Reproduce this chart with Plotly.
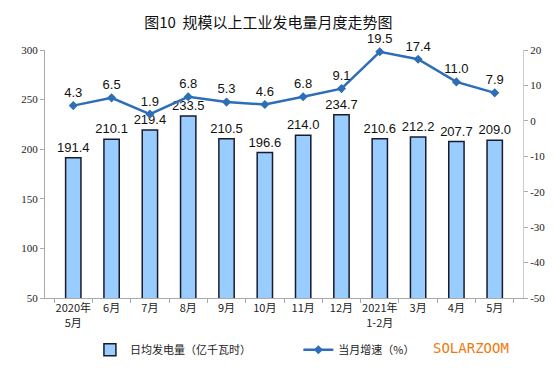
import plotly.graph_objects as go

categories = ["2020年<br>5月", "6月", "7月", "8月", "9月", "10月", "11月", "12月",
              "2021年<br>1-2月", "3月", "4月", "5月"]
daily_output = [191.4, 210.1, 219.4, 233.5, 210.5, 196.6, 214.0, 234.7, 210.6, 212.2, 207.7, 209.0]
growth_rate = [4.3, 6.5, 1.9, 6.8, 5.3, 4.6, 6.8, 9.1, 19.5, 17.4, 11.0, 7.9]
right_ticks = [20, 10, 0, -10, -20, -30, -40, -50]
right_tick_text = ["20", "10", "0", "-10", "-20", "-30", "-40", "-50"]

bar_name = "日均发电量（亿千瓦时）"
line_name = "当月增速（%）"

fig = go.Figure()
fig.add_trace(go.Bar(
    x=categories, y=daily_output, name=bar_name,
    marker=dict(color="#99CCFF", line=dict(color="#1a1a2e", width=1.5)),
    width=0.4,
    text=[f"{v:.1f}" for v in daily_output], textposition="outside",
    constraintext="none", textangle=0,
    textfont=dict(family="Liberation Sans, Arial", size=13, color="#111111"),
    cliponaxis=False, legend="legend", showlegend=True,
))
fig.add_trace(go.Scatter(
    x=categories, y=growth_rate, name=line_name, yaxis="y2",
    mode="lines+markers+text",
    line=dict(color="#2E6DB8", width=2.5),
    marker=dict(symbol="diamond", size=7, color="#2E6DB8"),
    text=[f"{v:.1f}" for v in growth_rate], textposition="top center",
    textfont=dict(family="Liberation Sans, Arial", size=13, color="#111111"),
    cliponaxis=False, legend="legend2", showlegend=True,
))

axis_font = dict(family="Liberation Serif, Times New Roman", size=11, color="#222222")
fig.update_layout(
    width=554, height=381,
    margin=dict(l=37, r=39, t=42, b=91),
    paper_bgcolor="white", plot_bgcolor="white",
    showlegend=True,
    title=dict(text="图10  规模以上工业发电量月度走势图", x=0.47, xanchor="center", y=0.962, yanchor="middle",
               font=dict(family="Noto Sans CJK SC", size=15, color="#111111")),
    xaxis=dict(showline=True, linecolor="#aaaaaa", linewidth=1, ticks="outside", tickson="boundaries",
               ticklen=4, tickcolor="#aaaaaa", tickangle=0,
               tickfont=dict(family="Noto Sans CJK SC", size=11, color="#222222")),
    yaxis=dict(range=[50, 300], dtick=50, showgrid=False, zeroline=False, showline=True,
               linecolor="#aaaaaa", ticks="outside", ticklen=4, tickcolor="#aaaaaa",
               tickfont=axis_font),
    yaxis2=dict(range=[-50, 20], tickvals=right_ticks, ticktext=right_tick_text,
                overlaying="y", side="right", showgrid=False,
                zeroline=False, showline=True, linecolor="#cccccc", ticks="outside",
                ticklen=4, tickcolor="#aaaaaa", tickfont=axis_font),
    legend=dict(orientation="h", x=0.094, y=-0.15, xanchor="left", yanchor="top",
                font=dict(family="Noto Sans CJK SC", size=11, color="#222222"),
                bgcolor="rgba(0,0,0,0)"),
    legend2=dict(orientation="h", x=0.53, y=-0.15, xanchor="left", yanchor="top",
                 font=dict(family="Noto Sans CJK SC", size=11, color="#222222"),
                 bgcolor="rgba(0,0,0,0)"),
    annotations=[dict(text="SOLARZOOM", xref="paper", yref="paper", x=0.975, y=-0.2,
                      xanchor="right", yanchor="middle", showarrow=False,
                      font=dict(family="DejaVu Sans Mono", size=14, color="#F07A10"))],
)

fig.write_html("out.html")
